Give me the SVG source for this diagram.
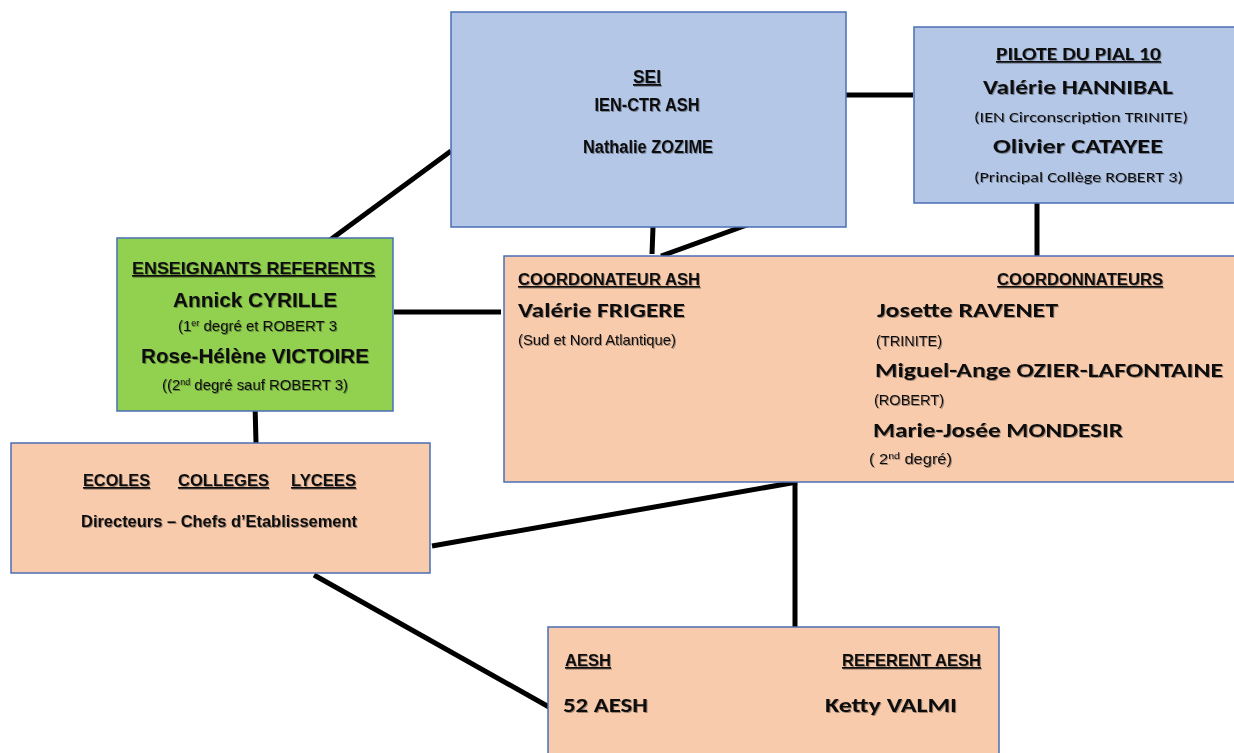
<svg xmlns="http://www.w3.org/2000/svg" width="1234" height="753" viewBox="0 0 1234 753">
<style>
.box{stroke:#4A6FB5;stroke-width:1.5}
.blue{fill:#B4C7E7}
.peach{fill:#F8CBAD}
.green{fill:#92D050}
.nb{font-family:"Liberation Sans Narrow","Liberation Sans",Arial,sans-serif;font-weight:bold;fill:#111}
.nr{font-family:"Liberation Sans Narrow","Liberation Sans",Arial,sans-serif;font-weight:normal;fill:#111}
.ab{font-family:"Liberation Sans",Arial,sans-serif;font-weight:bold;fill:#111}
.cb{font-family:Carlito,Lato,"Open Sans",sans-serif;font-weight:bold;fill:#111}
.cr{font-family:Carlito,Lato,"Open Sans",sans-serif;font-weight:normal;fill:#111}
.u{text-decoration:underline}
.sh{filter:url(#shadow)}
.conn line{stroke:#000;stroke-width:5;stroke-linecap:butt}
</style>
<defs>
<filter id="shadow" x="-5%" y="-20%" width="110%" height="150%">
<feDropShadow dx="1" dy="1" stdDeviation="0.6" flood-color="#000" flood-opacity="0.35"/>
</filter>
</defs>
<rect width="1234" height="753" fill="#fff"/>

<g id="connectors" class="conn">
<line x1="846" y1="95" x2="913" y2="95"/>
<line x1="330" y1="240" x2="451" y2="151"/>
<line x1="653" y1="227" x2="652" y2="254"/>
<line x1="661" y1="256" x2="758" y2="221"/>
<line x1="1037" y1="203" x2="1037" y2="256"/>
<line x1="394" y1="312" x2="501" y2="312"/>
<line x1="255" y1="404" x2="256" y2="443"/>
<line x1="432" y1="546" x2="797" y2="482"/>
<line x1="795" y1="482" x2="795" y2="633"/>
<line x1="314" y1="575" x2="549" y2="707"/>
</g>

<g id="sei">
<rect class="box blue" x="451" y="12" width="395" height="215"/>
<g class="sh">
<text class="nb u" x="647" y="83" font-size="18" text-anchor="middle" textLength="28" lengthAdjust="spacingAndGlyphs">SEI</text>
<text class="nb" x="647" y="111" font-size="18" text-anchor="middle" textLength="105" lengthAdjust="spacingAndGlyphs">IEN-CTR ASH</text>
<text class="nb" x="648" y="153" font-size="18" text-anchor="middle" textLength="130" lengthAdjust="spacingAndGlyphs">Nathalie ZOZIME</text>
</g>
</g>

<g id="pilote">
<rect class="box blue" x="914" y="27" width="330" height="176"/>
<g class="sh">
<text class="cb u" x="996" y="60" font-size="17" textLength="165" lengthAdjust="spacingAndGlyphs">PILOTE DU PIAL 10</text>
<text class="cb" x="983" y="94" font-size="21" textLength="190" lengthAdjust="spacingAndGlyphs">Valérie HANNIBAL</text>
<text class="cr" x="974" y="122" font-size="15" textLength="214" lengthAdjust="spacingAndGlyphs">(IEN Circonscription TRINITE)</text>
<text class="cb" x="993" y="153" font-size="21" textLength="170" lengthAdjust="spacingAndGlyphs">Olivier CATAYEE</text>
<text class="cr" x="974" y="182" font-size="15" textLength="209" lengthAdjust="spacingAndGlyphs">(Principal Collège ROBERT 3)</text>
</g>
</g>

<g id="enseignants">
<rect class="box green" x="117" y="238" width="276" height="173"/>
<g class="sh">
<text class="nb u" x="132" y="274" font-size="17" textLength="243" lengthAdjust="spacingAndGlyphs">ENSEIGNANTS REFERENTS</text>
<text class="ab" x="173" y="307" font-size="21" textLength="164" lengthAdjust="spacingAndGlyphs">Annick CYRILLE</text>
<text class="nr" x="178" y="331" font-size="15" textLength="159" lengthAdjust="spacingAndGlyphs">(1<tspan font-size="9" dy="-5">er</tspan><tspan dy="5"> degré et ROBERT 3</tspan></text>
<text class="ab" x="141" y="363" font-size="21" textLength="228" lengthAdjust="spacingAndGlyphs">Rose-Hélène VICTOIRE</text>
<text class="nr" x="162" y="390" font-size="15" textLength="186" lengthAdjust="spacingAndGlyphs">((2<tspan font-size="9" dy="-5">nd</tspan><tspan dy="5"> degré sauf ROBERT 3)</tspan></text>
</g>
</g>

<g id="coordination">
<rect class="box peach" x="504" y="256" width="740" height="226"/>
<g class="sh">
<text class="nb u" x="518" y="285" font-size="16" textLength="182" lengthAdjust="spacingAndGlyphs">COORDONATEUR ASH</text>
<text class="cb" x="518" y="317" font-size="20" textLength="167" lengthAdjust="spacingAndGlyphs">Valérie FRIGERE</text>
<text class="nr" x="518" y="345" font-size="15" textLength="158" lengthAdjust="spacingAndGlyphs">(Sud et Nord Atlantique)</text>
<text class="nb u" x="997" y="285" font-size="16" textLength="166" lengthAdjust="spacingAndGlyphs">COORDONNATEURS</text>
<text class="cb" x="877" y="317" font-size="20" textLength="181" lengthAdjust="spacingAndGlyphs">Josette RAVENET</text>
<text class="nr" x="876" y="346" font-size="14" textLength="66" lengthAdjust="spacingAndGlyphs">(TRINITE)</text>
<text class="cb" x="875" y="377" font-size="20" textLength="348" lengthAdjust="spacingAndGlyphs">Miguel-Ange OZIER-LAFONTAINE</text>
<text class="nr" x="874" y="405" font-size="14" textLength="70" lengthAdjust="spacingAndGlyphs">(ROBERT)</text>
<text class="cb" x="873" y="437" font-size="20" textLength="250" lengthAdjust="spacingAndGlyphs">Marie-Josée MONDESIR</text>
<text class="nr" x="869" y="464" font-size="14" textLength="83" lengthAdjust="spacingAndGlyphs">( 2<tspan font-size="9" dy="-5">nd</tspan><tspan dy="5"> degré)</tspan></text>
</g>
</g>

<g id="etablissements">
<rect class="box peach" x="11" y="443" width="419" height="130"/>
<g class="sh">
<text class="nb u" x="83" y="486" font-size="17" textLength="67" lengthAdjust="spacingAndGlyphs">ECOLES</text>
<text class="nb u" x="178" y="486" font-size="17" textLength="91" lengthAdjust="spacingAndGlyphs">COLLEGES</text>
<text class="nb u" x="291" y="486" font-size="17" textLength="65" lengthAdjust="spacingAndGlyphs">LYCEES</text>
<text class="nb" x="81" y="527" font-size="17" textLength="276" lengthAdjust="spacingAndGlyphs">Directeurs – Chefs d’Etablissement</text>
</g>
</g>

<g id="aesh">
<rect class="box peach" x="548" y="627" width="451" height="140"/>
<g class="sh">
<text class="nb u" x="565" y="666" font-size="17" textLength="46" lengthAdjust="spacingAndGlyphs">AESH</text>
<text class="nb u" x="842" y="666" font-size="17" textLength="139" lengthAdjust="spacingAndGlyphs">REFERENT AESH</text>
<text class="cb" x="563" y="712" font-size="21" textLength="85" lengthAdjust="spacingAndGlyphs">52 AESH</text>
<text class="cb" x="825" y="712" font-size="21" textLength="132" lengthAdjust="spacingAndGlyphs">Ketty VALMI</text>
</g>
</g>
</svg>
